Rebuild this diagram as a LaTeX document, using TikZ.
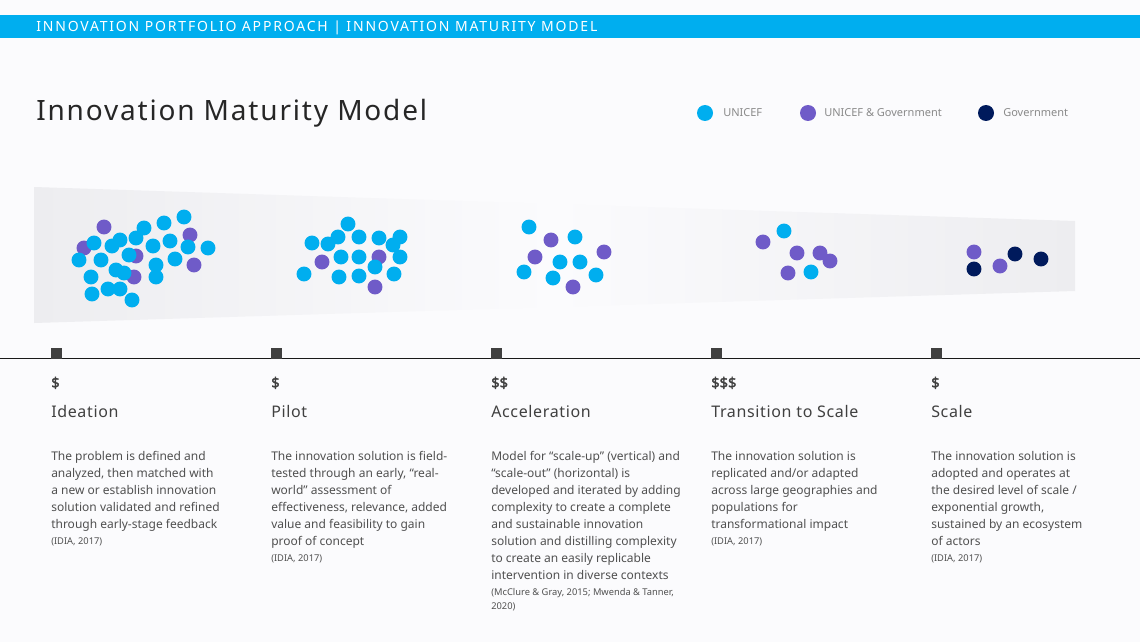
\documentclass[tikz,border=0pt]{standalone}
\usepackage{fontspec}
\setmainfont{Noto Sans}
\newfontfamily\headerfont[LetterSpace=13]{Noto Sans}
\newfontfamily\titlefont[LetterSpace=6.5]{Noto Sans}
\newfontfamily\stagefont[LetterSpace=4]{Noto Sans}
\newfontfamily\costfont[FakeBold=2]{Noto Sans}
\usepackage{tikz}

\definecolor{unicefcyan}{HTML}{00AEEF}
\definecolor{jointpurple}{HTML}{6F5BC8}
\definecolor{govnavy}{HTML}{001A5C}
\definecolor{pagebg}{HTML}{FBFBFD}
\definecolor{bandgrey}{HTML}{EDEDF0}
\definecolor{textgrey}{HTML}{505050}
\definecolor{darkgrey}{HTML}{404040}
\definecolor{legendgrey}{HTML}{8A8A8A}

\newcommand\refsize{\fontsize{7}{9}\selectfont}

\tikzset{
  bodytext/.style={anchor=north west, inner sep=0pt, align=left, text=textgrey,
    font=\fontsize{9}{12.75}\selectfont},
  stagename/.style={anchor=base west, inner sep=0pt, text=darkgrey,
    font=\stagefont\fontsize{12}{14}\selectfont},
  costlabel/.style={anchor=base west, inner sep=0pt, text=darkgrey,
    font=\costfont\fontsize{11}{13}\selectfont},
  legendtext/.style={anchor=base west, inner sep=0pt, text=legendgrey,
    font=\fontsize{8.25}{10}\selectfont}
}

\begin{document}
\begin{tikzpicture}[x=0.75pt, y=-0.75pt]

% page
\fill[pagebg] (0,0) rectangle (1140,642);
\useasboundingbox (0,0) rectangle (1140,642);

% header bar
\fill[unicefcyan] (0,15) rectangle (1140,38);
\node[anchor=base west, inner sep=0pt, text=white, font=\headerfont\fontsize{10.5}{12}\selectfont]
  (header) at (36,31.5) {INNOVATION PORTFOLIO APPROACH | INNOVATION MATURITY MODEL};

% title
\node[anchor=base west, inner sep=0pt, text=black!85, font=\titlefont\fontsize{21}{25}\selectfont]
  (title) at (36,121) {Innovation Maturity Model};

% legend
\fill[unicefcyan] (705,113) circle (6pt);
\node[legendtext] (legunicef) at (723,117) {UNICEF};
\fill[jointpurple] (808,113) circle (6pt);
\node[legendtext] (legjoint) at (824,117) {UNICEF \& Government};
\fill[govnavy] (986,113) circle (6pt);
\node[legendtext] (leggov) at (1003,117) {Government};

% band behind the clusters
\shade[left color=bandgrey, right color=bandgrey, middle color=pagebg]
  (34,187) -- (1075,221) -- (1075,291) -- (34,323) -- cycle;

% ideation cluster
\foreach \x/\y in {104/227, 84/248, 190/235, 136/256, 134/277, 194/265}
  \fill[jointpurple] (\x,\y) circle (5.6pt);
\foreach \x/\y in {184/217, 164/223, 144/228, 136/238, 120/240, 112/246, 94/243,
    79/260, 101/260, 129/255, 153/246, 170/241, 188/247, 208/248, 175/259,
    156/265, 156/277, 116/270, 124/273, 91/277, 108/289, 120/289, 92/294, 132/300}
  \fill[unicefcyan] (\x,\y) circle (5.6pt);

% pilot cluster
\foreach \x/\y in {322/262, 379/257, 375/287}
  \fill[jointpurple] (\x,\y) circle (5.6pt);
\foreach \x/\y in {348/224, 312/243, 328/244, 338/237, 359/237, 379/238, 400/237,
    393/245, 341/257, 359/257, 400/257, 375/267, 304/274, 339/277, 359/276, 394/274}
  \fill[unicefcyan] (\x,\y) circle (5.6pt);

% acceleration cluster
\foreach \x/\y in {551/240, 535/257, 604/252, 573/287}
  \fill[jointpurple] (\x,\y) circle (5.6pt);
\foreach \x/\y in {529/227, 575/237, 560/262, 580/262, 524/272, 553/278, 596/275}
  \fill[unicefcyan] (\x,\y) circle (5.6pt);

% transition cluster
\foreach \x/\y in {763/242, 797/253, 820/253, 830/261, 788/273}
  \fill[jointpurple] (\x,\y) circle (5.6pt);
\foreach \x/\y in {784/231, 811/272}
  \fill[unicefcyan] (\x,\y) circle (5.6pt);

% scale cluster
\foreach \x/\y in {974/252, 1000/266}
  \fill[jointpurple] (\x,\y) circle (5.6pt);
\foreach \x/\y in {974/269, 1015/254, 1041/259}
  \fill[govnavy] (\x,\y) circle (5.6pt);

% timeline
\coordinate (lineleft) at (0,358.5);
\coordinate (lineright) at (1140,358.5);
\draw[line width=1.1pt, black!90] (lineleft) -- (lineright);
\foreach \x in {51,271,491,711,931}
  \fill[darkgrey] (\x,348) rectangle ++(11,10.5);

% ideation
\node[costlabel] (ideacost) at (51,388) {\$};
\node[stagename] (ideaname) at (51,417) {Ideation};
\node[bodytext] (ideatext) at (51,451) {The problem is defined and\\
  analyzed, then matched with\\
  a new or establish innovation\\
  solution validated and refined\\
  through early-stage feedback\\[-0.6pt]
  {\refsize (IDIA, 2017)}};

% pilot
\node[costlabel] (pilotcost) at (271,388) {\$};
\node[stagename] (pilotname) at (271,417) {Pilot};
\node[bodytext] (pilottext) at (271,451) {The innovation solution is field-\\
  tested through an early, “real-\\
  world” assessment of\\
  effectiveness, relevance, added\\
  value and feasibility to gain\\
  proof of concept\\[-0.6pt]
  {\refsize (IDIA, 2017)}};

% acceleration
\node[costlabel] (accelcost) at (491,388) {\$\$};
\node[stagename] (accelname) at (491,417) {Acceleration};
\node[bodytext] (acceltext) at (491,451) {Model for “scale-up” (vertical) and\\
  “scale-out” (horizontal) is\\
  developed and iterated by adding\\
  complexity to create a complete\\
  and sustainable innovation\\
  solution and distilling complexity\\
  to create an easily replicable\\
  intervention in diverse contexts\\[-0.6pt]
  {\refsize (McClure \& Gray, 2015; Mwenda \& Tanner,}\\[-2.5pt]
  {\refsize 2020)}};

% transition to scale
\node[costlabel] (transcost) at (711,388) {\$\$\$};
\node[stagename] (transname) at (711,417) {Transition to Scale};
\node[bodytext] (transtext) at (711,451) {The innovation solution is\\
  replicated and/or adapted\\
  across large geographies and\\
  populations for\\
  transformational impact\\[-0.6pt]
  {\refsize (IDIA, 2017)}};

% scale
\node[costlabel] (scalecost) at (931,388) {\$};
\node[stagename] (scalename) at (931,417) {Scale};
\node[bodytext] (scaletext) at (931,451) {The innovation solution is\\
  adopted and operates at\\
  the desired level of scale /\\
  exponential growth,\\
  sustained by an ecosystem\\
  of actors\\[-0.6pt]
  {\refsize (IDIA, 2017)}};

\end{tikzpicture}
\end{document}
